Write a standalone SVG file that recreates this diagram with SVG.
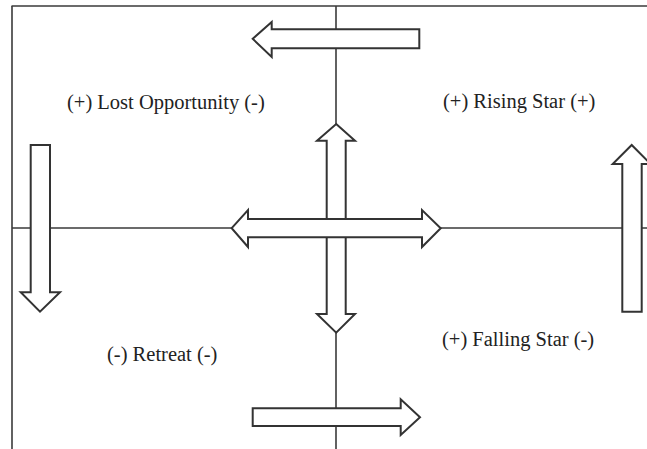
<svg xmlns="http://www.w3.org/2000/svg" width="647" height="449" viewBox="0 0 647 449">
<style>
.ln{stroke:#3a3a3a;stroke-width:1.6;fill:none}
.ar{fill:#fff;stroke:#333;stroke-width:2;stroke-linejoin:miter}
.lb{font-family:"Liberation Serif","Times New Roman",serif;font-size:20.5px;fill:#222}
</style>
<rect width="647" height="449" fill="#fff"/>
<g id="connectors">
<line class="ln" x1="11.5" y1="6" x2="647" y2="6"/>
<line class="ln" x1="12" y1="6" x2="12" y2="449"/>
<line class="ln" x1="336" y1="6" x2="336" y2="449"/>
<line class="ln" x1="12" y1="228" x2="647" y2="228"/>
</g>
<g id="arrow-top">
<polygon class="ar" points="419.3,29.3 271.7,29.3 271.7,22 252.7,38.8 271.7,57 271.7,48.3 419.3,48.3"/>
</g>
<g id="arrow-bottom">
<polygon class="ar" points="252.7,408.3 400.7,408.3 400.7,399.3 420,417.3 400.7,435 400.7,426 252.7,426"/>
</g>
<g id="arrow-left">
<polygon class="ar" points="30.7,145 50,145 50,292.3 60,292.3 40,311.7 20.7,292.3 30.7,292.3"/>
</g>
<g id="arrow-right">
<polygon class="ar" points="622.3,311.7 641.7,311.7 641.7,164 650.7,164 631.7,145 612.7,164 622.3,164"/>
</g>
<g id="arrow-vertical">
<polygon class="ar" points="336.2,124 355,140.7 345.7,140.7 345.7,314 355,314 336.2,332.7 317,314 326.7,314 326.7,140.7 317,140.7"/>
</g>
<g id="arrow-horizontal">
<polygon class="ar" points="231.7,228.2 248,210 248,219 422,219 422,210 440.7,228.2 422,247 422,237.3 248,237.3 248,247"/>
</g>
<g id="label-lost"><text class="lb" x="67" y="109">(+) Lost Opportunity (-)</text></g>
<g id="label-rising"><text class="lb" x="443" y="108">(+) Rising Star (+)</text></g>
<g id="label-falling"><text class="lb" x="442" y="346">(+) Falling Star (-)</text></g>
<g id="label-retreat"><text class="lb" x="107" y="361">(-) Retreat (-)</text></g>
</svg>
